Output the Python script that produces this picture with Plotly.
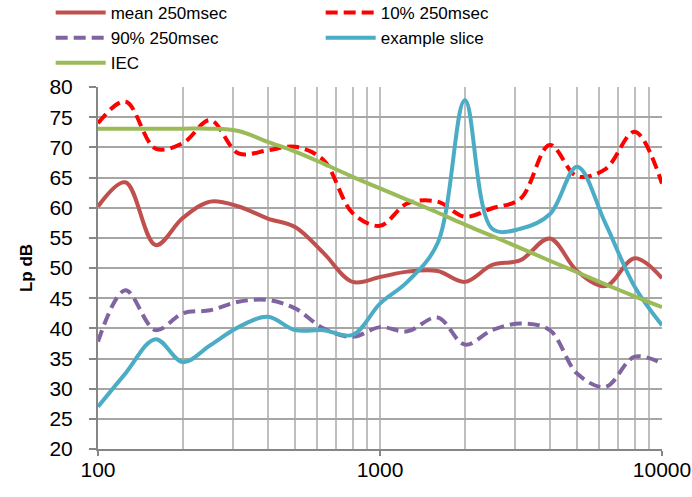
import plotly.graph_objects as go

freqs = [100, 125, 160, 200, 250, 315, 400, 500, 630, 800, 1000, 1250, 1600,
         2000, 2500, 3150, 4000, 5000, 6300, 8000, 10000]

mean_250 = [60.2, 64.2, 53.8, 58.3, 61.0, 60.2, 58.2, 56.8, 52.5, 47.7, 48.5,
            49.4, 49.5, 47.7, 50.5, 51.3, 54.9, 49.5, 47.0, 51.6, 48.3]
p10_250 = [74.0, 77.6, 69.8, 70.7, 74.5, 69.0, 69.5, 70.1, 67.9, 59.1, 57.0,
           60.7, 61.0, 58.5, 59.9, 61.5, 70.4, 65.2, 66.4, 72.6, 64.0]
p90_250 = [37.8, 46.3, 39.7, 42.5, 43.0, 44.4, 44.7, 43.3, 40.0, 38.6, 40.2,
           39.5, 41.8, 37.3, 39.7, 40.8, 39.7, 32.5, 30.3, 35.3, 34.2]
example = [27.0, 32.5, 38.2, 34.4, 37.2, 40.2, 41.9, 39.7, 39.7, 38.9, 44.1,
           47.7, 54.1, 77.8, 56.5, 56.5, 58.9, 66.8, 57.4, 46.9, 40.5]
iec = [73.1, 73.1, 73.1, 73.1, 73.1, 72.7, 70.9, 69.3, 67.3, 65.1, 63.2,
       61.3, 59.2, 57.2, 55.3, 53.3, 51.2, 49.3, 47.3, 45.3, 43.5]

y_ticks = [20, 25, 30, 35, 40, 45, 50, 55, 60, 65, 70, 75, 80]
x_ticks = [100, 1000, 10000]
x_ticktext = ["100", "1000", "10000"]
x_minor = [200, 300, 400, 500, 600, 700, 800, 900,
           2000, 3000, 4000, 5000, 6000, 7000, 8000, 9000]

fig = go.Figure()
series = [
    ("mean 250msec", mean_250, "#C0504D", "solid"),
    ("10% 250msec", p10_250, "#FF0000", "12px,6px"),
    ("90% 250msec", p90_250, "#8064A2", "12px,6px"),
    ("example slice", example, "#4BACC6", "solid"),
    ("IEC", iec, "#9BBB59", "solid"),
]
for name, vals, col, dash in series:
    fig.add_trace(go.Scatter(
        x=freqs, y=vals, name=name, mode="lines",
        line=dict(color=col, width=4, dash=dash, shape="spline", smoothing=1),
    ))

font = "Liberation Sans, Arial, sans-serif"
fig.update_layout(
    width=692, height=497,
    margin=dict(l=98, r=30, t=87, b=48, autoexpand=False),
    paper_bgcolor="white", plot_bgcolor="white",
    font=dict(family=font, size=21, color="black"),
    showlegend=True,
    legend=dict(
        orientation="h", x=-0.0839, xanchor="left", y=1.254, yanchor="top",
        font=dict(size=17, family=font), entrywidth=205, entrywidthmode="pixels",
        itemwidth=50, tracegroupgap=0, bgcolor="rgba(0,0,0,0)",
    ),
    xaxis=dict(
        type="log", range=[2, 4], tickvals=x_ticks, ticktext=x_ticktext,
        showgrid=True, gridcolor="#bfbfbf", gridwidth=1.5,
        showline=True, linecolor="#868686", linewidth=2,
        ticks="outside", ticklen=5, tickcolor="#868686", tickwidth=2,
        minor=dict(tickvals=x_minor, showgrid=True, gridcolor="#bfbfbf",
                   gridwidth=1.5, ticks=""),
        zeroline=False, ticklabelstandoff=-4,
    ),
    yaxis=dict(
        range=[20, 80], tickvals=y_ticks,
        showgrid=True, gridcolor="#a6a6a6", gridwidth=1.5,
        showline=True, linecolor="#868686", linewidth=2,
        ticks="outside", ticklen=7, tickcolor="#868686", tickwidth=2,
        zeroline=False, ticklabelstandoff=12,
        title=dict(text="<b>Lp dB</b>", font=dict(size=17, family=font), standoff=12),
    ),
)

fig.write_html("out.html")
